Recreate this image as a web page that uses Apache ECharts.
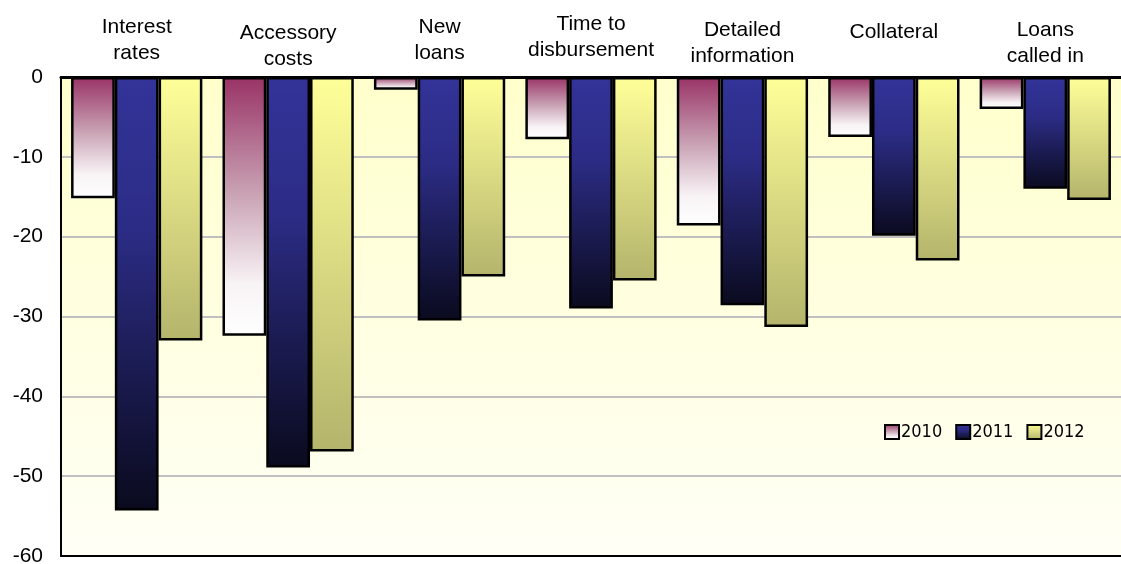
<!DOCTYPE html>
<html>
<head>
<meta charset="utf-8">
<title>Credit conditions</title>
<script src="https://cdn.jsdelivr.net/npm/echarts@6/dist/echarts.min.js"></script>
<style>
  html, body { margin: 0; padding: 0; background: #ffffff; }
  #chart { width: 1121px; height: 564px; }
</style>
</head>
<body>
<div id="chart"></div>
<script>
// Categories (two-line labels) and how far each label is lifted off the axis
const categories = [
  'Interest\nrates',
  'Accessory\ncosts',
  'New\nloans',
  'Time to\ndisbursement',
  'Detailed\ninformation',
  'Collateral',
  'Loans\ncalled in'
];
const labelLift = [6, 0, 6, 9, 3, 27, 3];

const seriesNames = ['2010', '2011', '2012'];
const values2010 = [-15.2, -32.4, -1.6, -7.8, -18.6, -7.5, -4.0];
const values2011 = [-54.3, -48.9, -30.5, -29.0, -28.6, -19.9, -14.0];
const values2012 = [-33.0, -46.9, -25.0, -25.5, -31.3, -23.0, -15.4];

const yTicks = { min: -60, max: 0, interval: 10 };

const G = echarts.graphic.LinearGradient;
const fills = [
  new G(0, 0, 0, 1, [
    { offset: 0, color: '#993366' },
    { offset: 0.45, color: '#c9a2b4' },
    { offset: 0.8, color: '#f8f3f5' },
    { offset: 1, color: '#ffffff' }
  ]),
  new G(0, 0, 0, 1, [
    { offset: 0, color: '#333399' },
    { offset: 0.35, color: '#2c2c86' },
    { offset: 1, color: '#0a0a1e' }
  ]),
  new G(0, 0, 0, 1, [
    { offset: 0, color: '#ffff99' },
    { offset: 1, color: '#b4b46c' }
  ])
];

const catData = categories.map((c, i) => ({
  value: c,
  textStyle: { padding: [0, 0, labelLift[i], 0] }
}));

const allValues = [values2010, values2011, values2012];
const series = seriesNames.map((name, i) => ({
  name: name,
  type: 'bar',
  xAxisIndex: 0,
  data: allValues[i],
  barGap: '0%',
  barCategoryGap: '13.3%',
  itemStyle: { color: fills[i], borderColor: '#000000', borderWidth: 2.5 },
  emphasis: { disabled: true }
}));

const chart = echarts.init(document.getElementById('chart'), null, { renderer: 'canvas' });
chart.setOption({
  animation: false,
  backgroundColor: '#ffffff',
  textStyle: { fontFamily: "'Liberation Sans', Arial, sans-serif" },
  grid: {
    left: 61, right: 0, top: 77, bottom: 8,
    outerBoundsMode: 'none',
    containLabel: false,
    show: true,
    borderWidth: 0,
    backgroundColor: new G(0, 0, 0, 1, [
      { offset: 0, color: '#ffffcc' },
      { offset: 1, color: '#fffff6' }
    ])
  },
  legend: {
    data: seriesNames,
    left: 879, top: 418,
    itemWidth: 14, itemHeight: 14, itemGap: 13,
    icon: 'rect',
    selectedMode: false,
    itemStyle: { borderColor: '#000000', borderWidth: 2 },
    textStyle: {
      fontFamily: "'Liberation Sans Narrow', 'DejaVu Sans Condensed', sans-serif",
      fontSize: 18, color: '#000000', padding: [0, 0, 0, -3]
    }
  },
  xAxis: [
    {
      type: 'category',
      position: 'top',
      data: catData,
      axisLine: { show: true, onZero: false, lineStyle: { color: '#000000', width: 3 } },
      axisTick: { show: false },
      axisLabel: {
        interval: 0,
        margin: 5,
        align: 'center',
        fontSize: 21,
        lineHeight: 26,
        color: '#000000',
        fontFamily: "'Liberation Sans', Arial, sans-serif"
      },
      splitLine: { show: false }
    },
    {
      type: 'category',
      position: 'bottom',
      data: categories,
      axisLine: { show: true, onZero: false, lineStyle: { color: '#000000', width: 2 } },
      axisTick: { show: false },
      axisLabel: { show: false },
      splitLine: { show: false }
    }
  ],
  yAxis: {
    type: 'value',
    min: yTicks.min, max: yTicks.max, interval: yTicks.interval,
    axisLine: { show: true, lineStyle: { color: '#000000', width: 2 } },
    axisTick: { show: false },
    axisLabel: {
      margin: 18, fontSize: 21, color: '#000000',
      fontFamily: "'Liberation Sans', Arial, sans-serif"
    },
    splitLine: { show: true, lineStyle: { color: '#c0c0c0', width: 2 } }
  },
  series: series
});
</script>
</body>
</html>
